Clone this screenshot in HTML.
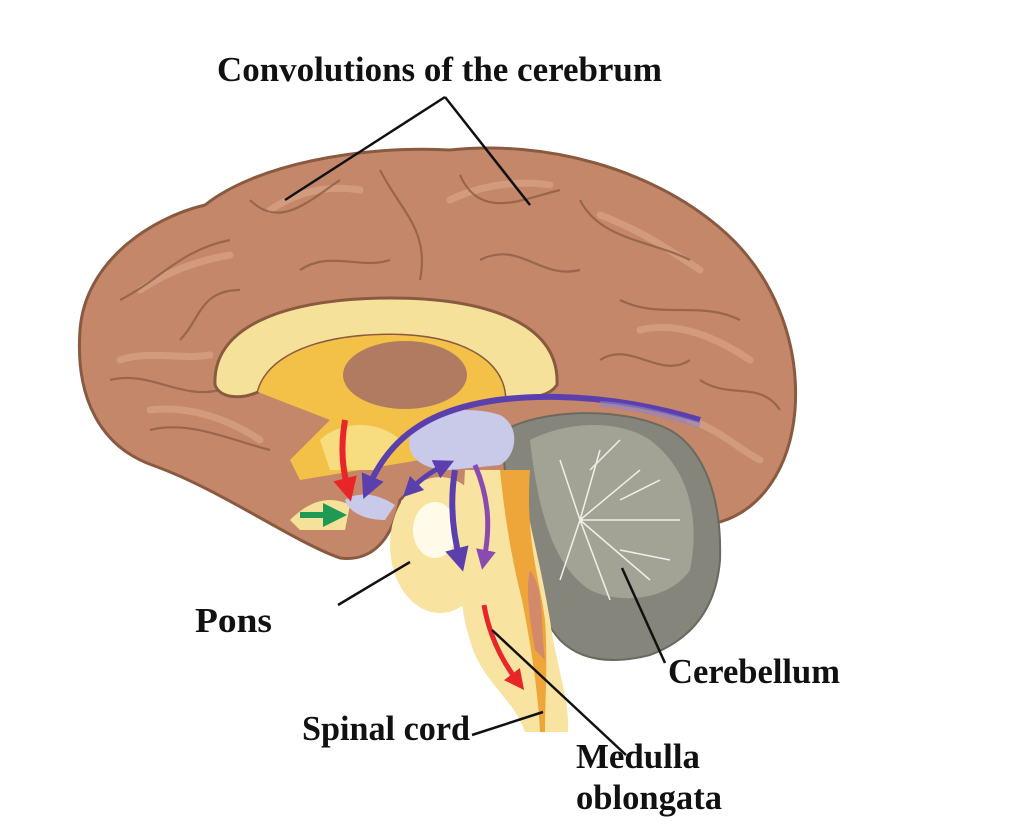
<!DOCTYPE html>
<html><head><meta charset="utf-8"><style>
html,body{margin:0;padding:0;background:#fff;}
svg{display:block;}
text{font-family:"Liberation Serif",serif;font-weight:bold;font-size:35px;fill:#111;}
</style></head><body>
<svg width="1024" height="833" viewBox="0 0 1024 833" xmlns="http://www.w3.org/2000/svg">
<defs>
<marker id="ap" viewBox="0 0 10 10" refX="5" refY="5" markerWidth="4" markerHeight="4" orient="auto-start-reverse"><path d="M0,0 L10,5 L0,10 z" fill="#5b40ad"/></marker>
<marker id="ar" viewBox="0 0 10 10" refX="5" refY="5" markerWidth="4" markerHeight="4" orient="auto"><path d="M0,0 L10,5 L0,10 z" fill="#e8262a"/></marker>
<marker id="ag" viewBox="0 0 10 10" refX="5" refY="5" markerWidth="4" markerHeight="4" orient="auto"><path d="M0,0 L10,5 L0,10 z" fill="#1e9a55"/></marker>
<marker id="am" viewBox="0 0 10 10" refX="5" refY="5" markerWidth="4" markerHeight="4" orient="auto"><path d="M0,0 L10,5 L0,10 z" fill="#8a4ab0"/></marker>
</defs>
<!-- cerebrum -->
<path d="M80,330 C85,262 150,218 205,205 C255,165 360,145 450,150 C545,140 650,168 720,228 C772,272 800,340 795,410 C790,470 760,510 720,522 L505,522 C470,480 430,470 400,500 C392,540 372,562 340,558 C290,540 222,490 152,465 C102,447 75,400 80,330 Z" fill="#c4876a" stroke="#8a5a40" stroke-width="3"/>
<g fill="none" stroke="#e0ab8e" stroke-width="7" opacity="0.55" stroke-linecap="round">
<path d="M140,290 C170,270 200,260 230,255"/><path d="M270,210 C300,190 330,185 360,190"/>
<path d="M450,200 C480,185 520,180 550,185"/><path d="M600,215 C640,230 670,250 700,270"/>
<path d="M640,330 C680,320 720,340 750,360"/><path d="M120,360 C150,350 180,360 210,355"/>
<path d="M150,410 C190,405 230,420 260,440"/><path d="M690,420 C720,430 740,450 760,460"/>
</g>
<g fill="none" stroke="#8f5e44" stroke-width="2.2" opacity="0.8">
<path d="M120,300 C160,280 180,250 230,240"/><path d="M250,200 C280,230 310,200 340,180"/>
<path d="M380,170 C400,210 430,230 420,280"/><path d="M460,175 C480,220 520,200 560,190"/>
<path d="M580,200 C600,240 650,240 690,260"/><path d="M620,300 C660,320 700,300 740,320"/>
<path d="M700,380 C730,400 760,380 780,410"/><path d="M110,380 C150,370 180,400 220,390"/>
<path d="M300,270 C330,250 360,270 390,260"/><path d="M480,260 C520,240 540,280 580,270"/>
<path d="M150,430 C190,420 230,440 270,450"/><path d="M600,360 C630,340 660,380 690,360"/>
<path d="M180,340 C200,320 200,290 240,290"/>
</g>
<!-- corpus callosum -->
<path d="M215,385 C212,320 300,298 390,298 C480,298 560,320 557,385 C545,402 520,395 505,400 C505,360 460,335 390,335 C320,335 268,355 258,392 C240,400 220,398 215,385 Z" fill="#f6e19a" stroke="#8a5a40" stroke-width="3"/>
<path d="M258,392 C268,355 320,335 390,335 C460,335 505,360 505,400 L470,405 L420,460 L360,470 L300,480 L290,460 L330,420 Z" fill="#f3c048"/>
<path d="M320,440 C340,420 380,420 400,440 L380,470 L330,470 Z" fill="#f7dc80"/>
<ellipse cx="405" cy="375" rx="62" ry="34" fill="#b07b61"/>
<path d="M290,520 C310,500 330,495 350,505 L345,530 L300,530 Z" fill="#f6e19a"/>
<!-- cerebellum -->
<path d="M505,430 C540,410 620,405 670,430 C705,450 722,500 720,560 C716,610 690,640 650,655 C610,665 580,660 560,640 C535,610 520,580 515,540 C510,500 500,460 505,430 Z" fill="#85857b" stroke="#6a6a60" stroke-width="2"/>
<path d="M530,440 C570,420 620,420 650,440 C690,470 700,520 690,570 C670,600 620,605 590,590 C560,570 540,530 530,440 Z" fill="#a3a395"/>
<g stroke="#f0f0ea" stroke-width="1.5" fill="none">
<path d="M580,520 L560,460 M580,520 L600,450 M580,520 L640,470 M580,520 L680,520 M580,520 L650,580 M580,520 L610,600 M580,520 L560,580 M590,470 L620,440 M620,500 L660,480 M620,550 L670,560"/>
</g>
<!-- brainstem -->
<path d="M465,470 L520,470 C530,530 540,560 550,620 C555,660 570,700 568,732 L525,732 C515,700 480,680 470,640 C460,610 460,580 460,560 Z" fill="#f8e3a0"/>
<ellipse cx="440" cy="545" rx="50" ry="68" fill="#f8e3a0"/>
<ellipse cx="435" cy="530" rx="22" ry="28" fill="#fffbe8"/>
<path d="M500,470 L530,470 C525,540 540,580 545,620 C548,660 545,700 545,732 L540,732 C538,690 530,640 522,600 C512,560 505,520 500,470 Z" fill="#eea63a"/>
<path d="M530,570 C545,590 540,620 545,660 L535,650 C530,620 525,590 530,570 Z" fill="#d38a6a"/>
<!-- lavender -->
<path d="M410,435 C420,410 470,405 500,415 C520,425 518,455 500,465 L450,470 C420,470 405,455 410,435 Z" fill="#c9c9ea"/>
<path d="M345,500 C360,490 380,495 395,505 L385,520 C370,520 350,515 345,500 Z" fill="#c9c9ea"/>
<!-- arrows -->
<path d="M700,420 C600,390 500,390 440,415 C400,432 380,460 368,488" fill="none" stroke="#5b40ad" stroke-width="6" marker-end="url(#ap)"/>
<path d="M700,425 C650,410 620,405 600,404" fill="none" stroke="#8f86c8" stroke-width="6" opacity="0.6"/>
<path d="M410,490 C420,480 430,472 445,465" fill="none" stroke="#5b40ad" stroke-width="5" marker-start="url(#ap)" marker-end="url(#ap)"/>
<path d="M455,470 C450,500 452,530 460,560" fill="none" stroke="#5b40ad" stroke-width="6" marker-end="url(#ap)"/>
<path d="M475,465 C490,500 490,530 484,560" fill="none" stroke="#8a4ab0" stroke-width="5" marker-end="url(#am)"/>
<path d="M345,420 C340,450 343,470 348,490" fill="none" stroke="#e8262a" stroke-width="6" marker-end="url(#ar)"/>
<path d="M300,515 L335,515" fill="none" stroke="#1e9a55" stroke-width="6" marker-end="url(#ag)"/>
<path d="M484,605 C490,640 505,665 518,682" fill="none" stroke="#e8262a" stroke-width="5" marker-end="url(#ar)"/>
<!-- leader lines -->
<g stroke="#111" stroke-width="2.5" fill="none">
<path d="M445,97 L285,200"/><path d="M445,97 L530,205"/>
<path d="M338,605 L410,562"/>
<path d="M665,663 L622,568"/>
<path d="M472,735 L543,712"/>
<path d="M626,755 L492,630"/>
</g>
<text x="217" y="81" textLength="445" lengthAdjust="spacingAndGlyphs">Convolutions of the cerebrum</text>
<text x="195" y="632" textLength="77" lengthAdjust="spacingAndGlyphs">Pons</text>
<text x="668" y="683" textLength="172" lengthAdjust="spacingAndGlyphs">Cerebellum</text>
<text x="302" y="740" textLength="168" lengthAdjust="spacingAndGlyphs">Spinal cord</text>
<text x="576" y="768" textLength="124" lengthAdjust="spacingAndGlyphs">Medulla</text>
<text x="576" y="809" textLength="146" lengthAdjust="spacingAndGlyphs">oblongata</text>
</svg>
</body></html>
